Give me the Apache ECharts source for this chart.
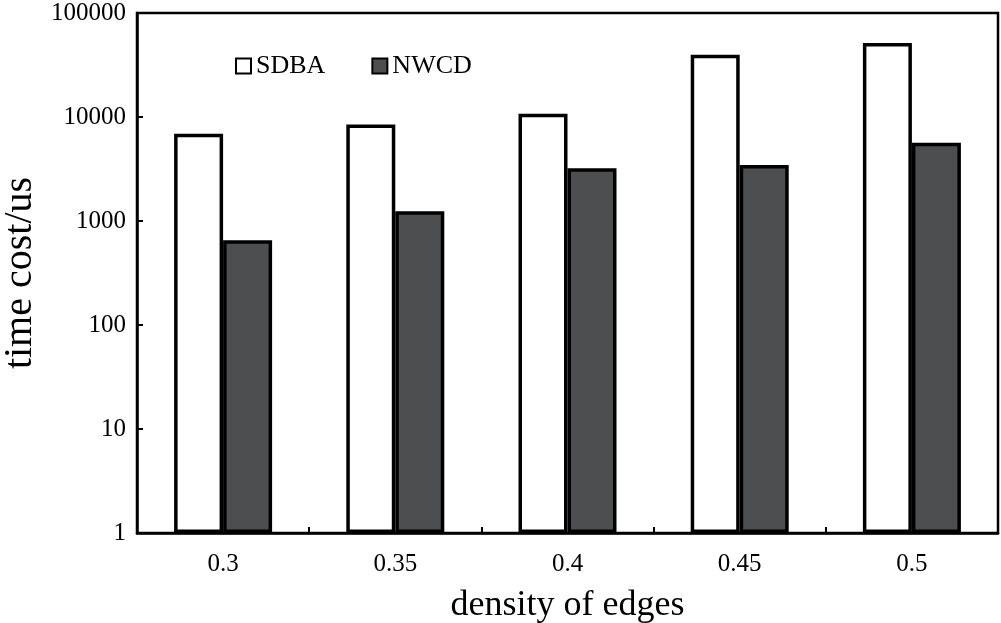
<!DOCTYPE html>
<html><head><meta charset="utf-8">
<script src="https://cdn.jsdelivr.net/npm/echarts@6/dist/echarts.min.js"></script>
<style>html,body{margin:0;padding:0;background:#fff}#c{width:1001px;height:623px}</style>
</head><body><div id="c"></div>
<script>
const categories = ['0.3', '0.35', '0.4', '0.45', '0.5'];
const sdba = [6910, 8450, 10760, 39700, 51500];
const nwcd = [652, 1240, 3210, 3460, 5640];
const yTicks = [1, 10, 100, 1000, 10000, 100000];

const FONT = '"Liberation Serif", "DejaVu Serif", serif';
const chart = echarts.init(document.getElementById('c'));
chart.setOption({
  animation: false,
  backgroundColor: '#fff',
  textStyle: { fontFamily: FONT, color: '#000' },
  grid: { left: 137, right: 3, top: 13, bottom: 90, outerBoundsMode: 'none', containLabel: false,
    show: true, borderColor: '#000', borderWidth: 2.5, backgroundColor: 'transparent' },
  legend: {
    left: 230, top: 48, itemWidth: 15, itemHeight: 15, itemGap: 46,
    icon: 'rect',
    textStyle: { fontFamily: FONT, fontSize: 26, color: '#000' },
    data: ['SDBA', 'NWCD']
  },
  xAxis: {
    type: 'category', data: categories,
    name: 'density of edges', nameLocation: 'middle', nameGap: 55,
    nameTextStyle: { fontFamily: FONT, fontSize: 36, color: '#000' },
    axisLine: { lineStyle: { color: '#000', width: 2.5 } },
    axisTick: { show: true, inside: true, length: 6, lineStyle: { color: '#000', width: 2 } },
    axisLabel: { fontFamily: FONT, fontSize: 25, color: '#000', margin: 19 }
  },
  yAxis: {
    type: 'log', logBase: 10, min: 1, max: 100000,
    name: 'time cost/us', nameLocation: 'middle', nameGap: 95,
    nameTextStyle: { fontFamily: FONT, fontSize: 40, color: '#000' },
    axisLine: { show: true, lineStyle: { color: '#000', width: 2.5 } },
    axisTick: { show: true, inside: true, length: 6, lineStyle: { color: '#000', width: 2 } },
    splitLine: { show: false },
    minorTick: { show: false },
    axisLabel: { fontFamily: FONT, fontSize: 25, color: '#000', margin: 11,
      formatter: v => yTicks.includes(Math.round(v)) ? String(Math.round(v)) : '' }
  },
  series: [
    { name: 'SDBA', type: 'bar', data: sdba, barWidth: 49, barGap: '0%',
      itemStyle: { color: '#ffffff', borderColor: '#000', borderWidth: 3.5 } },
    { name: 'NWCD', type: 'bar', data: nwcd, barWidth: 49, barGap: '0%',
      itemStyle: { color: '#4d4e50', borderColor: '#000', borderWidth: 3.5 } }
  ]
});
</script></body></html>
